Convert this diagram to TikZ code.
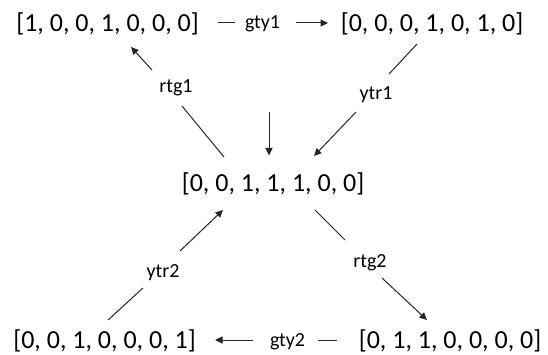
\documentclass[tikz,border=0pt]{standalone}
\usepackage{fontspec}
\setmainfont{Carlito}
\usetikzlibrary{arrows.meta}

\tikzset{
  state/.style={anchor=base, inner sep=0pt, font=\fontsize{26}{30}\selectfont},
  lbl/.style={anchor=base, inner sep=0pt, font=\fontsize{20}{24}\selectfont},
  link/.style={line width=1pt, draw=black!85},
  arr/.style={link, -{Triangle[length=7.5pt,width=7pt]}}
}

\begin{document}
\begin{tikzpicture}[x=1pt, y=-1pt]
  \useasboundingbox (0,0) rectangle (548,355);

  % state vectors
  \node[state] (tl)  at (107.5,32) {[1, 0, 0, 1, 0, 0, 0]};
  \node[state] (tr)  at (432,32)   {[0, 0, 0, 1, 0, 1, 0]};
  \node[state] (mid) at (273,192)  {[0, 0, 1, 1, 1, 0, 0]};
  \node[state] (bl)  at (104.5,348.5) {[0, 0, 1, 0, 0, 0, 1]};
  \node[state] (br)  at (450,348.5)  {[0, 1, 1, 0, 0, 0, 0]};

  % transition labels
  \node[lbl] (gty1) at (262.5,29) {gty1};
  \node[lbl] (gty2) at (287.5,346) {gty2};
  \node[lbl] (rtg1) at (176,93)   {rtg1};
  \node[lbl] (rtg2) at (370,267)  {rtg2};
  \node[lbl] (ytr1) at (376,100)  {ytr1};
  \node[lbl] (ytr2) at (163,277)  {ytr2};

  % segment ends around each label
  \coordinate (g1a) at (218,23);  \coordinate (g1b) at (235,23);
  \coordinate (g1c) at (296,23);  \coordinate (g1d) at (328,23);
  \coordinate (g2a) at (337,340); \coordinate (g2b) at (318,340);
  \coordinate (g2c) at (253,340); \coordinate (g2d) at (215,340);
  \coordinate (y1a) at (417,44);  \coordinate (y1b) at (389,74);
  \coordinate (y1c) at (356,112); \coordinate (y1d) at (314,156);
  \coordinate (r1a) at (224,157); \coordinate (r1b) at (182,106);
  \coordinate (r1c) at (152,70);  \coordinate (r1d) at (131,47);
  \coordinate (y2a) at (108,320); \coordinate (y2b) at (143,288);
  \coordinate (y2c) at (180,251); \coordinate (y2d) at (223,210);
  \coordinate (r2a) at (315,210); \coordinate (r2b) at (345,240);
  \coordinate (r2c) at (382,278); \coordinate (r2d) at (427,320);
  \coordinate (va)  at (269,112); \coordinate (vb)  at (269,155.5);

  % transitions
  \draw[link] (g1a) -- (g1b);  \draw[arr] (g1c) -- (g1d);
  \draw[link] (g2a) -- (g2b);  \draw[arr] (g2c) -- (g2d);
  \draw[link] (y1a) -- (y1b);  \draw[arr] (y1c) -- (y1d);
  \draw[link] (r1a) -- (r1b);  \draw[arr] (r1c) -- (r1d);
  \draw[link] (y2a) -- (y2b);  \draw[arr] (y2c) -- (y2d);
  \draw[link] (r2a) -- (r2b);  \draw[arr] (r2c) -- (r2d);
  \draw[arr] (va) -- (vb);
\end{tikzpicture}
\end{document}
